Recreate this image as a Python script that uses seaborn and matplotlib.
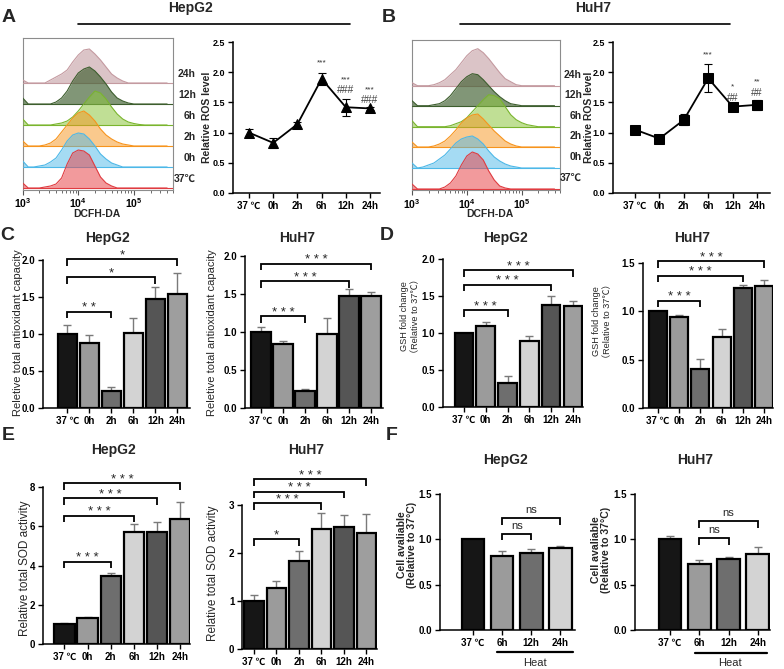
import numpy as np
import pandas as pd
import matplotlib
matplotlib.use("Agg")
import matplotlib.pyplot as plt
import seaborn as sns
from matplotlib.ticker import FormatStrFormatter

# ---------------- data ----------------
time_labels = ['37℃', '0h', '2h', '6h', '12h', '24h']
time_tick_labels = ['37 ℃', '0h', '2h', '6h', '12h', '24h']

# flow cytometry histograms (height in px, sampled on log10(DCFH-DA) grid)
hist_log_grid = [3.0, 3.1, 3.2, 3.3, 3.4, 3.5, 3.6, 3.7, 3.8, 3.9, 4.0, 4.1, 4.2, 4.3,
                 4.4, 4.5, 4.6, 4.7, 4.8, 4.9, 5.0, 5.1, 5.2, 5.3, 5.4, 5.5, 5.6]
hep_hist_37 = [5, 0, 0, 0, 1, 2, 4, 10, 24, 35, 38, 37, 33, 22, 11, 5, 2, 0, 0, 0, 0, 0, 0, 0, 0, 0, 0]
hep_hist_0h = [6, 0, 0, 1, 2, 5, 9, 17, 26, 32, 34, 33, 28, 21, 13, 8, 4, 2, 0, 0, 0, 0, 0, 0, 0, 0, 0]
hep_hist_2h = [5, 0, 0, 0, 1, 3, 7, 14, 21, 28, 33, 35, 31, 25, 17, 11, 7, 4, 2, 1, 0, 0, 0, 0, 0, 0, 0]
hep_hist_6h = [6, 0, 0, 0, 0, 0, 1, 2, 4, 8, 14, 21, 28, 34, 32, 26, 18, 11, 6, 3, 1.5, 0.5, 0, 0, 0, 0, 0]
hep_hist_12h = [6, 0, 0, 0, 0, 0, 2, 6, 13, 23, 31, 35, 37, 33, 27, 20, 12, 6, 3, 1, 0, 0, 0, 0, 0, 0, 0]
hep_hist_24h = [3, 0, 0, 0, 0, 3, 6, 9, 13, 21, 28, 33, 34, 29, 23, 16, 9, 5, 2, 0, 0, 0, 0, 0, 0, 0, 0]

huh_hist_37 = [5, 0, 0, 0, 0, 0, 2, 6, 13, 24, 33, 37, 35, 29, 18, 9, 3, 1, 0, 0, 0, 0, 0, 0, 0, 0, 0]
huh_hist_0h = [5, 0, 1, 3, 5, 9, 13, 19, 25, 29, 31, 32, 29, 24, 17, 11, 7, 4, 2, 1, 0, 0, 0, 0, 0, 0, 0]
huh_hist_2h = [5, 0, 0, 0, 1, 3, 6, 11, 17, 24, 29, 32, 33, 28, 22, 16, 11, 6, 3, 1, 0, 0, 0, 0, 0, 0, 0]
huh_hist_6h = [6, 0, 0, 0, 0, 0, 0, 1, 3, 5, 9, 15, 21, 27, 32, 31, 28, 20, 12, 7, 4, 2, 1, 0, 0, 0, 0]
huh_hist_12h = [5, 0, 0, 0, 1, 2, 5, 10, 17, 24, 29, 32, 31, 26, 20, 14, 9, 5, 2, 1, 0, 0, 0, 0, 0, 0, 0]
huh_hist_24h = [3, 0, 0, 0, 1, 3, 6, 11, 16, 23, 30, 35, 37, 33, 27, 20, 13, 7, 4, 1, 0, 0, 0, 0, 0, 0, 0]

# relative ROS level
ros_hep_mean = [1.00, 0.83, 1.14, 1.89, 1.42, 1.40]
ros_hep_err = [0.06, 0.08, 0.04, 0.10, 0.14, 0.03]
ros_hep_sig = ['', '', '', '***', '***', '***']
ros_hep_sig2 = ['', '', '', '', '###', '###']
ros_huh_mean = [1.05, 0.90, 1.21, 1.90, 1.43, 1.46]
ros_huh_err = [0.03, 0.02, 0.09, 0.23, 0.03, 0.08]
ros_huh_sig = ['', '', '', '***', '*', '**']
ros_huh_sig2 = ['', '', '', '', '##', '##']

# total antioxidant capacity
tac_hep_mean = [1.00, 0.88, 0.23, 1.02, 1.47, 1.54]
tac_hep_err = [0.12, 0.11, 0.05, 0.20, 0.17, 0.29]
tac_hep_pairs = [(0, 2), (0, 4), (0, 5)]
tac_hep_sig = ['**', '*', '*']
tac_huh_mean = [1.00, 0.84, 0.23, 0.98, 1.47, 1.48]
tac_huh_err = [0.07, 0.04, 0.02, 0.20, 0.10, 0.05]
tac_huh_pairs = [(0, 2), (0, 4), (0, 5)]
tac_huh_sig = ['***', '***', '***']

# GSH
gsh_hep_mean = [1.00, 1.09, 0.32, 0.89, 1.38, 1.36]
gsh_hep_err = [0.005, 0.06, 0.10, 0.07, 0.12, 0.07]
gsh_hep_pairs = [(0, 2), (0, 4), (0, 5)]
gsh_hep_sig = ['***', '***', '***']
gsh_huh_mean = [1.00, 0.94, 0.40, 0.73, 1.24, 1.26]
gsh_huh_err = [0.0, 0.02, 0.11, 0.09, 0.03, 0.06]
gsh_huh_pairs = [(0, 2), (0, 4), (0, 5)]
gsh_huh_sig = ['***', '***', '***']

# SOD
sod_hep_mean = [1.00, 1.32, 3.45, 5.70, 5.70, 6.35]
sod_hep_err = [0.05, 0.08, 0.15, 0.40, 0.52, 0.90]
sod_hep_pairs = [(0, 2), (0, 3), (0, 4), (0, 5)]
sod_hep_sig = ['***', '***', '***', '***']
sod_huh_mean = [1.00, 1.27, 1.84, 2.50, 2.55, 2.42]
sod_huh_err = [0.12, 0.15, 0.21, 0.33, 0.25, 0.40]
sod_huh_pairs = [(0, 2), (0, 3), (0, 4), (0, 5)]
sod_huh_sig = ['*', '***', '***', '***']

# cell viability
via_labels = ['37℃', '6h', '12h', '24h']
via_tick_labels = ['37 ℃', '6h', '12h', '24h']
via_hep_mean = [1.00, 0.82, 0.85, 0.90]
via_hep_err = [0.005, 0.05, 0.04, 0.025]
via_hep_pairs = [(1, 2), (1, 3)]
via_hep_sig = ['ns', 'ns']
via_huh_mean = [1.00, 0.73, 0.78, 0.84]
via_huh_err = [0.035, 0.04, 0.025, 0.075]
via_huh_pairs = [(1, 2), (1, 3)]
via_huh_sig = ['ns', 'ns']

# ---------------- style ----------------
bar_colors_time = ['#161616', '#9b9b9b', '#6e6e6e', '#d3d3d3', '#555555', '#9e9e9e']
bar_colors_via = ['#161616', '#9b9b9b', '#6e6e6e', '#d3d3d3']
hist_edge = ['#e03c41', '#4db8e8', '#f7941d', '#7ab52e', '#3d5e2e', '#c49aa0']
hist_fill = [('#e8474c', 0.55), ('#4db8e8', 0.5), ('#f7941d', 0.5),
             ('#8dc63f', 0.55), ('#3d5e2e', 0.65), ('#b07c84', 0.45)]

sns.set_theme(style='ticks')
plt.rcParams['font.family'] = ['Liberation Sans', 'Noto Sans CJK SC', 'DejaVu Sans']
plt.rcParams['font.weight'] = 'bold'
plt.rcParams['axes.linewidth'] = 1.1
plt.rcParams['xtick.major.width'] = 1.0
plt.rcParams['ytick.major.width'] = 1.0
plt.rcParams['xtick.major.size'] = 3.5
plt.rcParams['ytick.major.size'] = 3.5
plt.rcParams['xtick.labelsize'] = 7
plt.rcParams['ytick.labelsize'] = 7
plt.rcParams['xtick.major.pad'] = 2
plt.rcParams['ytick.major.pad'] = 2
plt.rcParams['axes.edgecolor'] = 'black'
plt.rcParams['xtick.color'] = 'black'
plt.rcParams['ytick.color'] = 'black'

W, H = 784, 669
fig = plt.figure(figsize=(W / 100, H / 100), dpi=100)


def add_ax(l, t, r, b):
    return fig.add_axes([l / W, 1 - b / H, (r - l) / W, (b - t) / H])


def ftext(x, y, s, **kw):
    kw.setdefault('ha', 'center')
    kw.setdefault('va', 'center')
    fig.text(x / W, 1 - y / H, s, **kw)


def fline(x1, x2, y, lw=1.2):
    fig.add_artist(plt.Line2D([x1 / W, x2 / W], [1 - y / H, 1 - y / H], color='black', lw=lw))


def style_axes(ax):
    sns.despine(ax=ax)
    ax.set_xlabel('')
    ax.set_ylabel('')
    ax.tick_params(axis='both', which='both', direction='out')


# ---------------- histogram panels ----------------
def hist_panel(box, rows, baselines, label_x, label_dy):
    l, t, r, b = box
    ax = add_ax(l, t, r, b)
    xv = 10 ** np.array(hist_log_grid)
    for k in reversed(range(len(rows))):
        base = baselines[k]
        h = np.array(rows[k], dtype=float)
        c, a = hist_fill[k]
        z = 10 - k
        ax.fill_between(xv, base, base + h, color=c, alpha=a, lw=0, zorder=z)
        ax.plot(xv, base + h, color=hist_edge[k], lw=0.8, zorder=z + 0.1)
        ax.axhline(base, color=hist_edge[k], lw=0.8, zorder=z + 0.1)
        ftext(label_x, b - base - label_dy, time_labels[k], ha='right', fontsize=7.5)
    ax.set_xscale('log')
    ax.set_xlim(1e3, 10 ** 5.7)
    ax.set_ylim(0, b - t)
    ax.set_yticks([])
    ax.set_xticks([1e3, 1e4, 1e5])
    for s in ax.spines.values():
        s.set_color('#8c8c8c')
        s.set_linewidth(0.8)
    ax.tick_params(axis='x', which='major', length=3.5, width=0.8, color='#555555', labelsize=7.5, pad=1.5)
    ax.tick_params(axis='x', which='minor', length=2, width=0.6, color='#555555')
    return ax


hist_panel((22.7, 38, 172.7, 189.5),
           [hep_hist_37, hep_hist_0h, hep_hist_2h, hep_hist_6h, hep_hist_12h, hep_hist_24h],
           [1.5, 22.5, 43.5, 64.5, 85.5, 106.5], 196, 9)
hist_panel((412, 40, 560, 190),
           [huh_hist_37, huh_hist_0h, huh_hist_2h, huh_hist_6h, huh_hist_12h, huh_hist_24h],
           [1, 22, 43, 63.3, 84.3, 104.3], 582, 11)

ftext(97, 214, 'DCFH-DA', fontsize=7.5)
ftext(490, 214, 'DCFH-DA', fontsize=7.5)


# ---------------- ROS line panels ----------------
def ros_panel(box, means, errs, marker, msize, sig, sig2, sig_y, sig2_y, xlim):
    ax = add_ax(*box)
    xs = np.arange(len(time_labels))
    df = pd.DataFrame({'x': xs, 'y': means})
    sns.lineplot(data=df, x='x', y='y', color='black', marker=marker, markersize=msize,
                 markeredgecolor='black', linewidth=1.3, ax=ax, zorder=3)
    ax.errorbar(xs, means, yerr=errs, fmt='none', ecolor='black', elinewidth=0.8,
                capsize=3, capthick=0.8, zorder=2)
    for i in range(len(xs)):
        if sig[i]:
            ax.text(xs[i], sig_y[i], sig[i], ha='center', va='center', fontsize=6,
                    fontweight='normal', color='#333333')
        if sig2[i]:
            ax.text(xs[i], sig2_y[i], sig2[i], ha='center', va='center', fontsize=7.5,
                    fontweight='normal', color='#444444')
    ax.set_xlim(*xlim)
    ax.set_ylim(0, 2.5)
    ax.set_yticks([0, 0.5, 1.0, 1.5, 2.0, 2.5])
    ax.yaxis.set_major_formatter(FormatStrFormatter('%.1f'))
    ax.set_xticks(xs)
    ax.set_xticklabels(time_tick_labels)
    style_axes(ax)
    ax.tick_params(axis='y', labelsize=6.5)
    return ax


ros_panel((233, 42, 380, 193), ros_hep_mean, ros_hep_err, '^', 6.5,
          ros_hep_sig, ros_hep_sig2, [0, 0, 0, 2.15, 1.87, 1.70], [0, 0, 0, 0, 1.70, 1.54], (-0.66, 5.41))
ros_panel((613, 42, 770, 193), ros_huh_mean, ros_huh_err, 's', 7,
          ros_huh_sig, ros_huh_sig2, [0, 0, 0, 2.28, 1.76, 1.84], [0, 0, 0, 0, 1.57, 1.65], (-0.9, 5.53))
ftext(207, 117, 'Relative ROS level', rotation=90, fontsize=7.5)
ftext(589, 117, 'Relative ROS level', rotation=90, fontsize=7.5)


# ---------------- bar panels ----------------
def bar_panel(box, labels, ticklabels, means, errs, colors, ylim, yticks, fmt, xlim,
              pairs, sig, sig_y, width=0.88, is_ns=False):
    l, t, r, b = box
    ax = add_ax(l, t, r, b)
    df = pd.DataFrame({'g': labels, 'v': means})
    sns.barplot(data=df, x='g', y='v', hue='g', order=labels, hue_order=labels,
                palette=dict(zip(labels, colors)), legend=False, width=width,
                edgecolor='black', linewidth=1.6, saturation=1, errorbar=None, ax=ax, zorder=2)
    xs = np.arange(len(labels))
    ax.errorbar(xs, means, yerr=[np.zeros(len(errs)), errs], fmt='none', ecolor='#7a7a7a',
                elinewidth=1.0, capsize=3.2, capthick=1.0, zorder=1)
    ax.set_xlim(*xlim)
    ax.set_ylim(*ylim)
    ax.set_yticks(yticks)
    ax.yaxis.set_major_formatter(FormatStrFormatter(fmt))
    ax.set_xticks(xs)
    ax.set_xticklabels(ticklabels)
    style_axes(ax)
    upp = (ylim[1] - ylim[0]) / (b - t)
    drop = 6.5 * upp
    for (i, j), s, y in zip(pairs, sig, sig_y):
        ax.plot([i, i, j, j], [y - drop, y, y, y - drop], color='black', lw=1.3,
                clip_on=False, solid_capstyle='butt', solid_joinstyle='miter')
        if is_ns:
            ax.text((i + j) / 2, y + 5 * upp, s, ha='center', va='baseline', fontsize=8,
                    fontweight='normal', clip_on=False)
        else:
            ax.text((i + j) / 2, y + 0.5 * upp, ' '.join(s), ha='center', va='baseline',
                    fontsize=9.5, fontweight='normal', clip_on=False)
    return ax


# C
bar_panel((43, 260, 190, 408), time_labels, time_tick_labels, tac_hep_mean, tac_hep_err,
          bar_colors_time, (0, 2.0), [0, 0.5, 1.0, 1.5, 2.0], '%.1f', (-1.11, 5.57),
          tac_hep_pairs, tac_hep_sig, [1.30, 1.77, 2.01])
bar_panel((245, 256, 383, 408), time_labels, time_tick_labels, tac_huh_mean, tac_huh_err,
          bar_colors_time, (0, 2.0), [0, 0.5, 1.0, 1.5, 2.0], '%.1f', (-0.73, 5.55),
          tac_huh_pairs, tac_huh_sig, [1.21, 1.67, 1.90])
# D
bar_panel((443, 259, 583, 407), time_labels, time_tick_labels, gsh_hep_mean, gsh_hep_err,
          bar_colors_time, (0, 2.0), [0, 0.5, 1.0, 1.5, 2.0], '%.1f', (-0.96, 5.46),
          gsh_hep_pairs, gsh_hep_sig, [1.31, 1.65, 1.85], width=0.85)
bar_panel((643, 263, 773, 408), time_labels, time_tick_labels, gsh_huh_mean, gsh_huh_err,
          bar_colors_time, (0, 1.5), [0, 0.5, 1.0, 1.5], '%.1f', (-0.71, 5.42),
          gsh_huh_pairs, gsh_huh_sig, [1.11, 1.37, 1.52], width=0.85)
# E
bar_panel((43, 487, 190, 644), time_labels, time_tick_labels, sod_hep_mean, sod_hep_err,
          bar_colors_time, (0, 8), [0, 2, 4, 6, 8], '%d', (-0.92, 5.42),
          sod_hep_pairs, sod_hep_sig, [4.2, 6.53, 7.43, 8.2])
bar_panel((242, 505, 377, 649), time_labels, time_tick_labels, sod_huh_mean, sod_huh_err,
          bar_colors_time, (0, 3), [0, 1, 2, 3], '%d', (-0.53, 5.47),
          sod_huh_pairs, sod_huh_sig, [2.29, 3.04, 3.28, 3.54])
# F
bar_panel((440, 494, 575, 630), via_labels, via_tick_labels, via_hep_mean, via_hep_err,
          bar_colors_via, (0, 1.5), [0, 0.5, 1.0, 1.5], '%.1f', (-1.13, 3.5),
          via_hep_pairs, via_hep_sig, [1.06, 1.23], width=0.78, is_ns=True)
bar_panel((635, 494, 770, 630), via_labels, via_tick_labels, via_huh_mean, via_huh_err,
          bar_colors_via, (0, 1.5), [0, 0.5, 1.0, 1.5], '%.1f', (-1.2, 3.42),
          via_huh_pairs, via_huh_sig, [1.01, 1.20], width=0.78, is_ns=True)

# Heat bars
fline(497, 573, 652, lw=1.6)
fline(695, 767, 653, lw=1.6)
ftext(535, 663, 'Heat', fontsize=8, fontweight='normal')
ftext(730, 663, 'Heat', fontsize=8, fontweight='normal')

# y labels
ftext(18, 333, 'Reletive total antioxidant capacity', rotation=90, fontsize=8, fontweight='normal')
ftext(212, 333, 'Reletive total antioxidant capacity', rotation=90, fontsize=8, fontweight='normal')
ftext(410, 316, 'GSH fold change\n（Relative to 37℃）', rotation=90, fontsize=6.6,
      fontweight='normal', multialignment='center', linespacing=1.2)
ftext(602, 321, 'GSH fold change\n（Relative to 37℃）', rotation=90, fontsize=6.6,
      fontweight='normal', multialignment='center', linespacing=1.2)
ftext(25, 568, 'Relative total SOD activity', rotation=90, fontsize=8.5, fontweight='normal')
ftext(213, 573, 'Relative total SOD activity', rotation=90, fontsize=8.5, fontweight='normal')
ftext(407, 545, 'Cell avaliable\n(Relative to 37°C)', rotation=90, fontsize=7.6,
      multialignment='center', linespacing=1.05)
ftext(601, 550, 'Cell avaliable\n(Relative to 37°C)', rotation=90, fontsize=7.6,
      multialignment='center', linespacing=1.05)

# titles
ftext(190, 8, 'HepG2', fontsize=10)
ftext(593, 8, 'HuH7', fontsize=10)
fline(78, 350, 24)
fline(460, 730, 24)
ftext(107, 238, 'HepG2', fontsize=10)
ftext(297, 238, 'HuH7', fontsize=10)
ftext(505, 238, 'HepG2', fontsize=10)
ftext(692, 238, 'HuH7', fontsize=10)
ftext(113, 450, 'HepG2', fontsize=10)
ftext(306, 450, 'HuH7', fontsize=10)
ftext(505, 460, 'HepG2', fontsize=10)
ftext(695, 460, 'HuH7', fontsize=10)

# panel letters
for letter, x, y in [('A', 9, 17), ('B', 389, 17), ('C', 7, 235), ('D', 387, 235),
                     ('E', 8, 435), ('F', 392, 435)]:
    ftext(x, y, letter, fontsize=14)

fig.savefig('out.png', dpi=100)
